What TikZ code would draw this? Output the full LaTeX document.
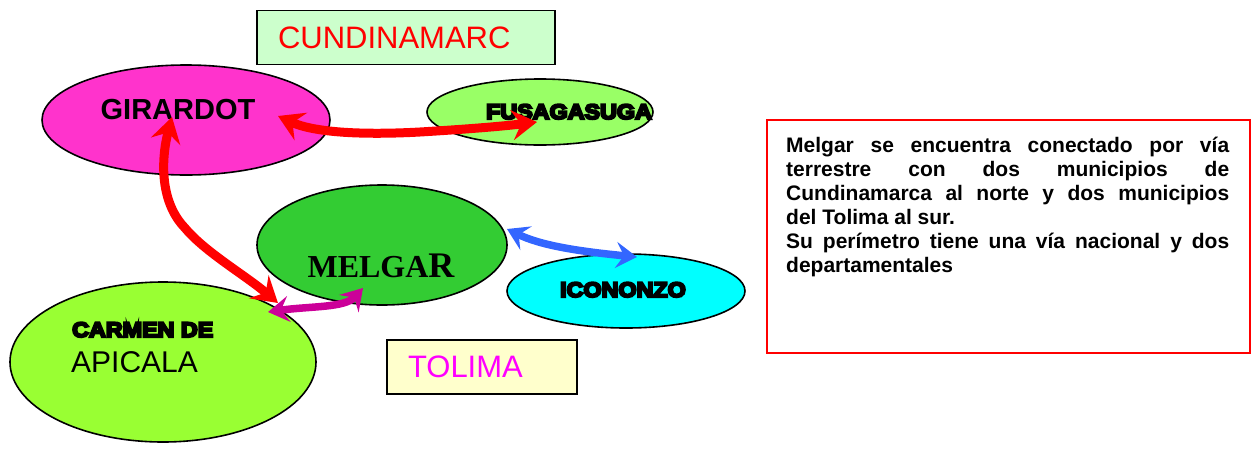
\documentclass[tikz,border=0pt]{standalone}
\usepackage{fontspec}
\setmainfont{Liberation Sans}
\newfontfamily\romanfont{Liberation Serif}
\newfontfamily\heavyfont{Liberation Sans}[FakeStretch=1.11,FakeBold=10]
\usetikzlibrary{positioning,calc,shapes.geometric,arrows.meta}
\definecolor{girpink}{HTML}{FF33CC}
\definecolor{fusagreen}{HTML}{99FF66}
\definecolor{melgreen}{HTML}{33CC33}
\definecolor{icocyan}{HTML}{00FFFF}
\definecolor{carlime}{HTML}{99FF33}
\definecolor{cundibg}{HTML}{CCFFCC}
\definecolor{tolibg}{HTML}{FFFFCC}
\definecolor{tolitext}{HTML}{FF00FF}
\definecolor{roadred}{HTML}{FF0000}
\definecolor{roadmag}{HTML}{CC0099}
\definecolor{roadblue}{HTML}{3366FF}
\tikzset{
  town/.style = {ellipse, draw=black, line width=1.6pt, inner sep=0pt},
  town_t/.style = {inner sep=0pt, font=\bfseries\fontsize{29}{34}\selectfont},
  town_h/.style = {inner sep=0pt, font=\heavyfont\bfseries\fontsize{21}{25}\selectfont},
  dept/.style = {rectangle, draw=black, line width=1.6pt, inner xsep=21pt,
    inner ysep=0pt, align=left, minimum height=54pt,
    font=\fontsize{31}{36}\selectfont},% recuadro de departamento
  road/.style = {line width=9pt, >={Stealth[length=25pt,width=30pt,inset=9pt]}, <->},
  road_s/.style = {line width=7.5pt, >={Stealth[length=21pt,width=26pt,inset=8pt]}, <->}
}

\begin{document}
\begin{tikzpicture}[x=1pt,y=-1pt]
\useasboundingbox (0,0) rectangle (1252,453);
%
% departamentos
\node (cundi) [dept, fill=cundibg, text=roadred, text width=256pt] at (406,37.5) {CUNDINAMARC};
\node (toli) [dept, fill=tolibg, text=tolitext, text width=148pt] at (482,367) {TOLIMA};
%
% municipios
\node (girardot) [town, fill=girpink, minimum width=288pt, minimum height=110pt] at (186,120) {};
\node (fusa) [town, fill=fusagreen, minimum width=226pt, minimum height=66pt] at (540,112) {};
\node (melgar) [town, fill=melgreen, minimum width=250pt, minimum height=120pt] at (382,245) {};
\node (icono) [town, fill=icocyan, minimum width=238pt, minimum height=74pt] at (626,291) {};
\node (carmen) [town, fill=carlime, minimum width=306pt, minimum height=160pt] at (163,362) {};
%
\node (girardot_t) [town_t, anchor=base] at (178,119) {GIRARDOT};
\node (fusa_t) [town_h, anchor=base] at (569,119) {FUSAGASUGA};
\node (melgar_t) [inner sep=0pt, anchor=base] at (381,277)
  {\romanfont\bfseries\fontsize{32}{36}\selectfont MELGA{\fontsize{36}{40}\selectfont R}};
\node (icono_t) [town_h, anchor=base] at (623,297) {ICONONZO};
\node (carmen_t) [town_h, anchor=base west] at (72,337) {CARMEN DE};
\node (apicala_t) [inner sep=0pt, anchor=base west, font=\fontsize{30}{34}\selectfont] at (71,372) {APICALA};
%
% vias
\draw[road, roadred] ($(girardot)+(92,-4)$) .. controls (315,133) and (365,135) .. (420,132)
  .. controls (470,129) and (505,126) .. ($(fusa)+(-3,10)$);
\draw[road, roadred] ($(girardot)+(-14,-3)$) .. controls (162,155) and (158,200) .. (185,228)
  .. controls (205,252) and (245,275) .. ($(carmen)+(115,-59)$);
\draw[road_s, roadmag] ($(carmen)+(105,-50)$) .. controls (310,306) and (345,308) .. ($(melgar)+(-19,43)$);
\draw[road_s, roadblue] ($(melgar)+(125,-16)$) .. controls (540,245) and (575,251) .. ($(icono)+(11,-34)$);
%
% texto
\node (infobox) [rectangle, draw=roadred, line width=2pt, minimum width=483pt,
  minimum height=233pt, inner sep=0pt] at (1008.5,236.5) {};
\node (infotext) [anchor=north west, text width=443pt, align=justify, inner sep=0pt,
  font=\bfseries\fontsize{21}{24}\selectfont] at ($(infobox.north west)+(20,18)$)
  {\parindent=0pt\tolerance=10000\hyphenpenalty=10000
   Melgar se encuentra conectado por vía\linebreak
   terrestre con dos municipios de\linebreak
   Cundinamarca al norte y dos municipios\linebreak
   del Tolima al sur.\par
   Su perímetro tiene una vía nacional y dos\linebreak
   departamentales};
\end{tikzpicture}
\end{document}
